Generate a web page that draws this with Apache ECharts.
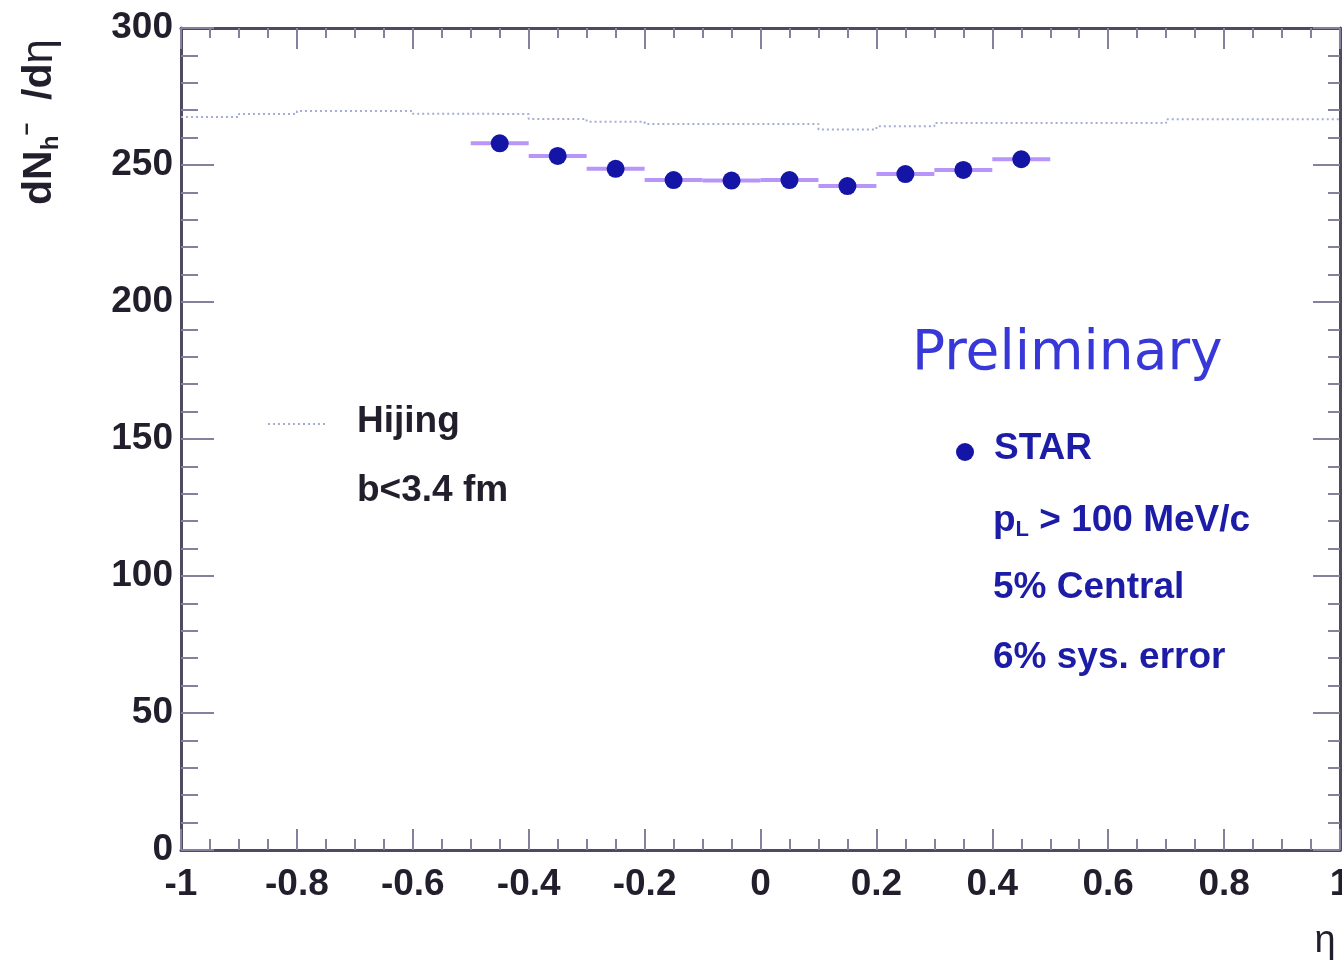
<!DOCTYPE html>
<html>
<head>
<meta charset="utf-8">
<script src="https://cdn.jsdelivr.net/npm/echarts@6/dist/echarts.min.js"></script>
<style>
html,body{margin:0;padding:0;background:#fff;overflow:hidden;}
#chart{width:1342px;height:972px;}
</style>
</head>
<body>
<div id="chart"></div>
<script>
// ---- data ----
const starEta = [-0.45, -0.35, -0.25, -0.15, -0.05, 0.05, 0.15, 0.25, 0.35, 0.45];
const starValues = [257.9, 253.3, 248.6, 244.5, 244.3, 244.5, 242.3, 246.7, 248.2, 252.1];
const etaBinWidth = 0.1;
const hijingBinLow = [-1.0, -0.9, -0.8, -0.7, -0.6, -0.5, -0.4, -0.3, -0.2, -0.1, 0.0, 0.1, 0.2, 0.3, 0.4, 0.5, 0.6, 0.7, 0.8, 0.9];
const hijingValues = [267.5, 268.6, 269.7, 269.7, 268.7, 268.6, 266.8, 265.8, 265.0, 265.0, 265.0, 263.0, 264.1, 265.3, 265.3, 265.3, 265.3, 266.7, 266.7, 266.7];
const xRange = [-1, 1];
const yRange = [0, 300];
const legendHijing = ['Hijing', 'b<3.4 fm'];
const legendStar = ['STAR', '5% Central', '6% sys. error'];

const hijingData = hijingBinLow.map((x, i) => [x, hijingValues[i]]);
hijingData.push([xRange[1], hijingValues[hijingValues.length - 1]]);
const starData = starEta.map((x, i) => [x, starValues[i]]);

const frameColor = '#4f4a62';
const tickColor = '#85819c';
const labelFont = 'Liberation Sans, Arial, sans-serif';
const blueText = '#1c1ca6';

function xAxisDef(pos, showLabel, major, minor) {
  return {
    type: 'value', position: pos, min: xRange[0], max: xRange[1], interval: 0.2,
    axisLine: { show: true, onZero: false, lineStyle: { color: frameColor, width: 3 } },
    axisTick: { show: true, inside: true, length: major, lineStyle: { color: tickColor, width: 2 } },
    minorTick: { show: true, splitNumber: 4, length: minor, lineStyle: { color: tickColor, width: 2 } },
    splitLine: { show: false },
    axisLabel: {
      show: showLabel, fontSize: 37, fontWeight: 'bold', color: '#221e2c', fontFamily: labelFont, margin: 16,
      formatter: v => String(Math.round(v * 10) / 10)
    }
  };
}
function yAxisDef(pos, showLabel, major, minor) {
  return {
    type: 'value', position: pos, min: yRange[0], max: yRange[1], interval: 50,
    axisLine: { show: true, onZero: false, lineStyle: { color: frameColor, width: 3 } },
    axisTick: { show: true, inside: true, length: major, lineStyle: { color: tickColor, width: 2 } },
    minorTick: { show: true, splitNumber: 5, length: minor, lineStyle: { color: tickColor, width: 2 } },
    splitLine: { show: false },
    axisLabel: { show: showLabel, fontSize: 37, fontWeight: 'bold', color: '#221e2c', fontFamily: labelFont, margin: 8 }
  };
}

const chart = echarts.init(document.getElementById('chart'), null, { width: 1342, height: 972 });
chart.setOption({
  animation: false,
  backgroundColor: '#ffffff',
  grid: { left: 181, width: 1159, top: 28, height: 822, containLabel: false, outerBoundsMode: 'none' },
  xAxis: [xAxisDef('bottom', true, 21, 11), xAxisDef('top', false, 21, 10)],
  yAxis: [yAxisDef('left', true, 33, 17), yAxisDef('right', false, 27, 12)],
  series: [
    {
      name: 'Hijing', type: 'line', step: 'end', data: hijingData, symbol: 'none',
      lineStyle: { type: [2, 3], width: 2, color: '#a5acd6' }, z: 2
    },
    {
      name: 'STAR err', type: 'custom', data: starData, z: 3,
      renderItem: function (params, api) {
        const x = api.value(0), y = api.value(1);
        const p1 = api.coord([x - etaBinWidth / 2, y]);
        const p2 = api.coord([x + etaBinWidth / 2, y]);
        return { type: 'line', shape: { x1: p1[0], y1: p1[1], x2: p2[0], y2: p2[1] },
          style: { stroke: '#a57bf7', lineWidth: 4, opacity: 0.8 } };
      }
    },
    {
      name: 'STAR', type: 'scatter', data: starData, symbol: 'circle', symbolSize: 18,
      itemStyle: { color: '#1414a6', opacity: 1 }, z: 4
    }
  ],
  graphic: [
    { type: 'text', x: 40, y: 122, rotation: Math.PI / 2,
      style: {
        text: '{n|dN}{s|h}{p|−}{n|  /d}{e|η}', align: 'center', verticalAlign: 'middle',
        rich: {
          n: { fontSize: 41, fontWeight: 'bold', fontFamily: labelFont, fill: '#221e2c', lineHeight: 46, verticalAlign: 'middle' },
          s: { fontSize: 24, fontWeight: 'bold', fontFamily: labelFont, fill: '#221e2c', lineHeight: 24, verticalAlign: 'bottom' },
          p: { fontSize: 22, fontWeight: 'bold', fontFamily: labelFont, fill: '#221e2c', lineHeight: 22, verticalAlign: 'top' },
          e: { fontSize: 44, fontFamily: labelFont, fill: '#221e2c', lineHeight: 46, verticalAlign: 'middle' }
        }
      } },
    { type: 'text', x: 1325, y: 942,
      style: { text: 'η', fontSize: 38, fontFamily: labelFont, fill: '#221e2c', align: 'center', verticalAlign: 'middle' } },
    { type: 'line', shape: { x1: 268, y1: 424, x2: 327, y2: 424 },
      style: { stroke: '#a5acd6', lineWidth: 2, lineDash: [2, 3] } },
    { type: 'text', x: 357, y: 422,
      style: { text: legendHijing[0], fontSize: 37, fontWeight: 'bold', fontFamily: labelFont, fill: '#221e2c', verticalAlign: 'middle' } },
    { type: 'text', x: 357, y: 491,
      style: { text: legendHijing[1], fontSize: 37, fontWeight: 'bold', fontFamily: labelFont, fill: '#221e2c', verticalAlign: 'middle' } },
    { type: 'text', x: 912, y: 355,
      style: { text: 'Preliminary', fontSize: 55, fontFamily: 'DejaVu Sans, sans-serif', fill: '#3838d8', verticalAlign: 'middle' } },
    { type: 'circle', shape: { cx: 965, cy: 452, r: 9 }, style: { fill: '#1414a6' } },
    { type: 'text', x: 994, y: 449,
      style: { text: legendStar[0], fontSize: 37, fontWeight: 'bold', fontFamily: labelFont, fill: blueText, verticalAlign: 'middle' } },
    { type: 'text', x: 993, y: 521,
      style: { text: '{a|p}{b|L}{a| > 100 MeV/c}', verticalAlign: 'middle',
        rich: {
          a: { fontSize: 37, fontWeight: 'bold', fontFamily: labelFont, fill: blueText, lineHeight: 40, verticalAlign: 'middle' },
          b: { fontSize: 22, fontWeight: 'bold', fontFamily: labelFont, fill: blueText, lineHeight: 22, verticalAlign: 'bottom' }
        } } },
    { type: 'text', x: 993, y: 588,
      style: { text: legendStar[1], fontSize: 37, fontWeight: 'bold', fontFamily: labelFont, fill: blueText, verticalAlign: 'middle' } },
    { type: 'text', x: 993, y: 658,
      style: { text: legendStar[2], fontSize: 37, fontWeight: 'bold', fontFamily: labelFont, fill: blueText, verticalAlign: 'middle' } }
  ]
});
</script>
</body>
</html>
